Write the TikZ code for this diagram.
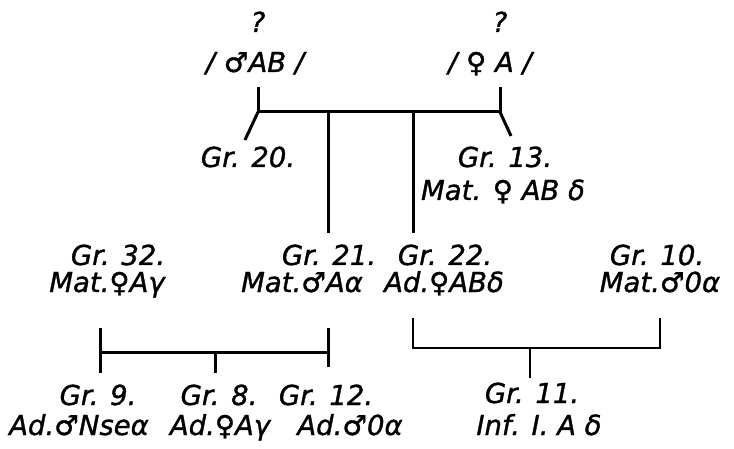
\documentclass[tikz,border=0pt]{standalone}
\usepackage{fontspec}
\setmainfont{DejaVu Sans}[ItalicFeatures={FakeBold=1.2}]
\newfontfamily\symf{DejaVu Sans}[FakeBold=1.2]
\newcommand{\ml}{{\symf\upshape ♂}}
\newcommand{\fm}{{\symf\upshape ♀}}
\begin{document}
\begin{tikzpicture}[x=1pt,y=-1pt,
  lbl/.style={inner sep=0pt,anchor=base,font=\fontsize{27.5}{30}\selectfont\itshape},
  ln/.style={line width=3pt,black},
  thn/.style={line width=2.2pt,black}]
\useasboundingbox (0,0) rectangle (734,449);
% top parents
\node[lbl] (q1) at (258,32) {?};
\node[lbl] (q2) at (500,32) {?};
\node[lbl] (p1) at (255,72) {/ \ml AB /};
\node[lbl] (p2) at (490,72) {/ \fm\ A /};
% children of top family
\node[lbl] (g20) at (248,167) {Gr. 20.};
\node[lbl] (g13) at (505,167) {Gr. 13.};
\node[lbl] (g13b) at (503,200) {Mat. \fm\ AB δ};
\node[lbl] (g21) at (329,265) {Gr. 21.};
\node[lbl] (g21b) at (302,292) {Mat.\ml Aα};
\node[lbl] (g22) at (445,265) {Gr. 22.};
\node[lbl] (g22b) at (444,292) {Ad.\fm ABδ};
\node[lbl] (g32) at (118,265) {Gr. 32.};
\node[lbl] (g32b) at (107,292) {Mat.\fm Aγ};
\node[lbl] (g10) at (657,265) {Gr. 10.};
\node[lbl] (g10b) at (660,292) {Mat.\ml 0α};
% bottom rows
\node[lbl] (g9) at (98,405) {Gr. 9.};
\node[lbl] (g9b) at (79,435) {Ad.\ml Nseα};
\node[lbl] (g8) at (219,405) {Gr. 8.};
\node[lbl] (g8b) at (220,435) {Ad.\fm Aγ};
\node[lbl] (g12) at (326,405) {Gr. 12.};
\node[lbl] (g12b) at (350,435) {Ad.\ml 0α};
\node[lbl] (g11) at (532,403) {Gr. 11.};
\node[lbl] (g11b) at (539,435) {Inf. I. A δ};
% junction coordinates
\coordinate (tl) at (258,112);
\coordinate (tr) at (500,112);
\coordinate (tla) at (258,87);
\coordinate (tra) at (500,87);
\coordinate (d20) at (245,140);
\coordinate (d13) at (511,136);
\coordinate (v21t) at (328,112);
\coordinate (v21b) at (328,233);
\coordinate (v22t) at (413,112);
\coordinate (v22b) at (413,233);
% top family
\draw[ln] (tla) -- (tl) -- (tr) -- (tra);
\draw[ln] (tl) -- (d20);
\draw[ln] (tr) -- (d13);
\draw[ln] (v21t) -- (v21b);
\draw[ln] (v22t) -- (v22b);
% bottom-left family
\coordinate (bl1) at (100,328);
\coordinate (bl2) at (100,373);
\coordinate (blh) at (100,352);
\coordinate (brh) at (328,352);
\coordinate (br1) at (328,328);
\coordinate (br2) at (328,367);
\coordinate (bm1) at (215,352);
\coordinate (bm2) at (215,373);
\draw[ln] (bl1) -- (bl2);
\draw[ln] (br1) -- (br2);
\draw[ln] (blh) -- (brh);
\draw[ln] (bm1) -- (bm2);
% bottom-right family
\coordinate (rl1) at (413,318);
\coordinate (rl2) at (413,348);
\coordinate (rr1) at (660,318);
\coordinate (rr2) at (660,348);
\coordinate (rm1) at (530,348);
\coordinate (rm2) at (530,378);
\draw[thn] (rl1) -- (rl2) -- (rr2) -- (rr1);
\draw[thn] (rm1) -- (rm2);
\end{tikzpicture}
\end{document}
